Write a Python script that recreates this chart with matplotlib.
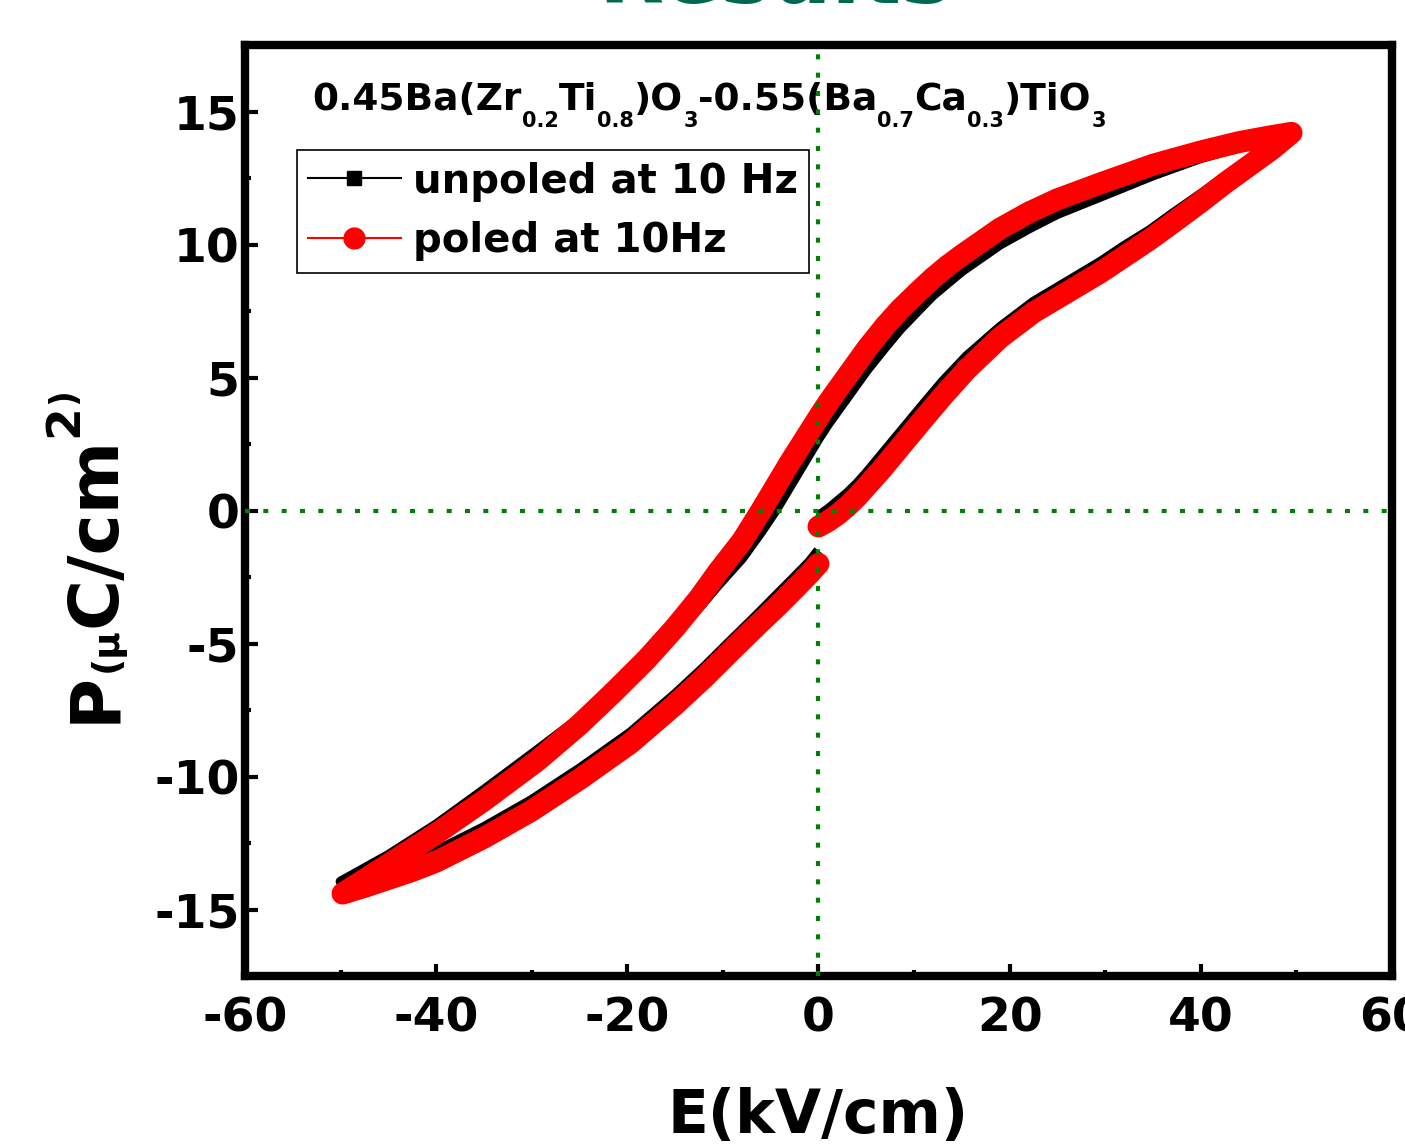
import matplotlib
matplotlib.use('Agg')
import matplotlib.pyplot as plt
from matplotlib.lines import Line2D
from matplotlib.ticker import MultipleLocator

plt.rcParams['font.family'] = ['DejaVu Sans']
plt.rcParams['font.weight'] = 'bold'
plt.rcParams['axes.unicode_minus'] = False

# P-E loop, unpoled sample (black), in drawing order:
# rising from 0 to +Emax, falling to -Emax, rising back to 0
E_unpoled = [0, 1, 2, 3, 4, 5, 6.5, 8, 9.5, 11, 13, 15.5, 19, 22.5, 26, 29.5, 32, 34.7, 37, 40, 42.5, 45.2, 47.5, 50,
             47, 44, 40, 35, 29.5, 25, 22, 19, 17, 15, 13.5, 12, 10.5, 8.5, 7, 5.1, 3.5, 2.5, 1, 0, -1.5, -3, -4.5,
             -6, -8, -10.5, -12.5, -15, -18, -21.5, -25, -29.4, -35, -40, -45, -50,
             -47.5, -45, -42.5, -40, -35, -30.1, -25, -19.7, -15, -12, -9.2, -6.5, -4.3, -2.5, -1, 0]
P_unpoled = [-0.2, 0.05, 0.35, 0.65, 1.0, 1.4, 2.05, 2.7, 3.35, 4.0, 4.85, 5.8, 6.9, 7.85, 8.6, 9.35, 9.95, 10.55,
             11.15, 11.9, 12.55, 13.2, 13.65, 14.1,
             13.95, 13.65, 13.25, 12.6, 11.8, 11.15, 10.6, 10.0, 9.5, 9.0, 8.55, 8.1, 7.55, 6.8, 6.15, 5.3, 4.5, 4.0,
             3.25, 2.7, 1.8, 0.9, 0.0, -0.8, -1.8, -2.8, -3.65, -4.5, -5.5, -6.6, -7.8, -9.0, -10.5, -11.8, -12.95,
             -13.95,
             -13.75, -13.45, -13.15, -12.8, -11.9, -10.9, -9.7, -8.35, -6.9, -5.9, -4.9, -3.95, -3.15, -2.5, -1.95, -1.5]

# P-E loop, poled sample (red)
E_poled = [0, 1, 2, 3, 4, 5, 6.5, 8, 9.5, 11, 13, 15.5, 19, 22.5, 26, 29.5, 32, 34.7, 37, 40, 42.5, 45.2, 47.5, 49.5,
           47, 44, 40, 35, 29.5, 25, 22, 19, 17, 15, 13.5, 12, 10.5, 8.5, 7, 5.1, 3.5, 2.5, 1, 0, -1.5, -3, -4.5,
           -6, -8, -10.5, -12.5, -15, -18, -21.5, -25, -29.4, -35, -40, -45, -49.8,
           -47.5, -45, -42.5, -40, -35, -30.1, -25, -19.7, -15, -12, -9.2, -6.5, -4.3, -2.5, -1, 0]
P_poled = [-0.6, -0.4, -0.15, 0.15, 0.5, 0.9, 1.5, 2.15, 2.8, 3.45, 4.3, 5.3, 6.5, 7.45, 8.2, 8.95, 9.55, 10.2, 10.8,
           11.6, 12.3, 13.0, 13.6, 14.2,
           14.05, 13.85, 13.5, 13.0, 12.3, 11.7, 11.2, 10.6, 10.1, 9.6, 9.2, 8.75, 8.25, 7.55, 6.95, 6.1, 5.3, 4.8,
           4.05, 3.5, 2.65, 1.8, 0.9, 0.0, -1.15, -2.3, -3.3, -4.4, -5.6, -6.85, -8.05, -9.4, -10.9, -12.15, -13.3,
           -14.4,
           -14.15, -13.85, -13.55, -13.2, -12.3, -11.3, -10.1, -8.75, -7.3, -6.3, -5.3, -4.35, -3.6, -2.95, -2.4, -2.0]

x_ticks = [-60, -40, -20, 0, 20, 40, 60]
y_ticks = [-15, -10, -5, 0, 5, 10, 15]
labels = ['unpoled at 10 Hz', 'poled at 10Hz']

# composition label: (text, is_subscript)
title_parts = [('0.45Ba(Zr', False), ('0.2', True), ('Ti', False), ('0.8', True), (')O', False), ('3', True),
               ('-0.55(Ba', False), ('0.7', True), ('Ca', False), ('0.3', True), (')TiO', False), ('3', True)]

fig = plt.figure(figsize=(14.05, 11.46), dpi=100)
ax = fig.add_axes([0.1744, 0.1483, 0.8163, 0.8124])

ax.plot(E_unpoled, P_unpoled, color='black', lw=7.2, solid_capstyle='butt', zorder=3)
ax.plot(E_poled, P_poled, color='#ff0000', lw=15.8, solid_capstyle='round', solid_joinstyle='round', zorder=4)

ax.axvline(0, color='green', lw=3, ls=(0, (1.2, 3.2)), zorder=5)
ax.axhline(0, color='green', lw=3, ls=(0, (1.2, 3.2)), zorder=5)

ax.set_xlim(-60, 60)
ax.set_ylim(-17.5, 17.5)
ax.set_xticks(x_ticks)
ax.set_yticks(y_ticks)
ax.xaxis.set_minor_locator(MultipleLocator(10))
ax.yaxis.set_minor_locator(MultipleLocator(2.5))
ax.tick_params(which='major', direction='in', length=9, width=3, labelsize=34, top=False, right=False)
ax.tick_params(which='minor', direction='in', length=4.5, width=3, top=False, right=False)
ax.tick_params(axis='y', pad=4)
ax.tick_params(axis='x', pad=15)
for sp in ax.spines.values():
    sp.set_linewidth(6)

ax.set_xlabel('E(kV/cm)', fontsize=43, fontweight='bold')
ax.xaxis.set_label_coords(0.5, -0.119)

# y label built from pieces of different size
ylab = ax.text(-0.101, 0.272, 'P', transform=ax.transAxes, rotation=90, ha='right', va='bottom',
               fontsize=50, fontweight='bold')
prev = ylab
for txt, size, dx in [('(μ', 27, -3), ('C/cm', 50, 0), ('2', 34, -30), (')', 25, -35)]:
    prev = ax.annotate(txt, xy=(1, 1), xycoords=(ylab, prev), xytext=(dx, 0), textcoords='offset points',
                       rotation=90, ha='right', va='bottom', fontsize=size, fontweight='bold')

# composition text
base = ax.text(0.059, 0.9213, title_parts[0][0], transform=ax.transAxes, fontsize=27, fontweight='bold',
               ha='left', va='bottom')
prev = base
for txt, sub in title_parts[1:]:
    if sub:
        prev = ax.annotate(txt, xy=(1, 0), xycoords=(prev, base), xytext=(0, -9), textcoords='offset points',
                           ha='left', va='bottom', fontsize=15, fontweight='bold')
    else:
        prev = ax.annotate(txt, xy=(1, 0), xycoords=(prev, base), xytext=(0, 0), textcoords='offset points',
                           ha='left', va='bottom', fontsize=27, fontweight='bold')

handles = [Line2D([], [], color='black', lw=1.5, marker='s', markersize=10),
           Line2D([], [], color='#ff0000', lw=1.5, marker='o', markersize=15)]
leg = ax.legend(handles, labels, loc='upper left', bbox_to_anchor=(0.045, 0.887), borderaxespad=0,
                fontsize=29, frameon=True, fancybox=False, framealpha=1, edgecolor='black',
                handlelength=2.3, handletextpad=0.3, borderpad=0.28, labelspacing=0.49)
leg.get_frame().set_linewidth(1.2)

fig.text(0.5516, 0.9974, 'Results', color='#00694f', fontsize=61, fontweight='bold', ha='center', va='baseline')

fig.savefig('out.png', dpi=100)
